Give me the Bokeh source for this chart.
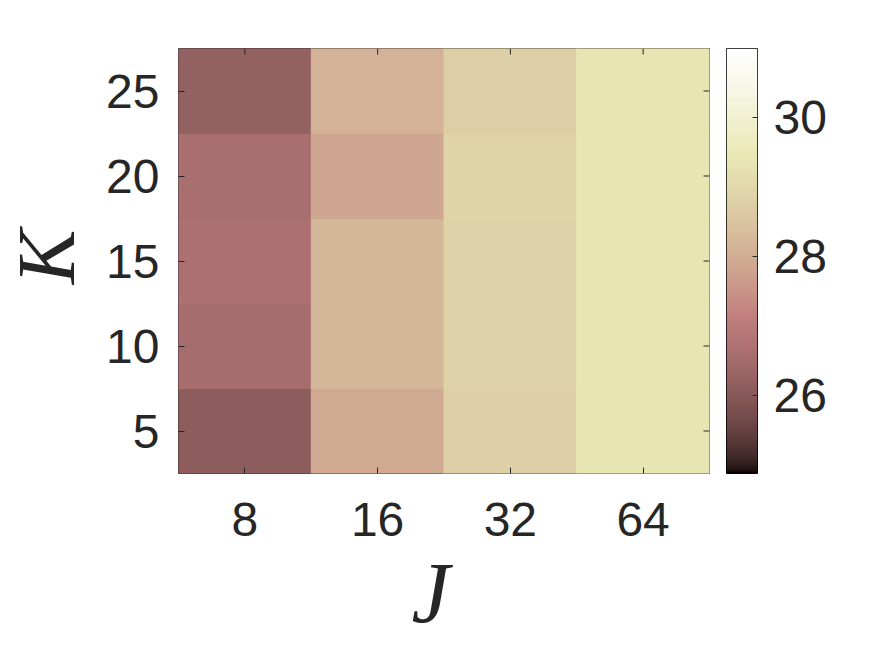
import numpy as np
from bokeh.plotting import figure
from bokeh.layouts import row
from bokeh.models import (LinearColorMapper, FixedTicker, ColumnDataSource, Range1d,
                          Label, Title)
from bokeh.embed import file_html
from bokeh.resources import INLINE

# ---- data ----
J_labels = ["8", "16", "32", "64"]
K_values = [5, 10, 15, 20, 25]
vals_J8 = [26.08, 26.57, 26.65, 26.61, 26.21]
vals_J16 = [27.90, 28.18, 28.18, 27.86, 28.10]
vals_J32 = [28.76, 28.86, 28.86, 28.87, 28.74]
vals_J64 = [29.35, 29.35, 29.35, 29.35, 29.35]
clim = [24.87, 31.0]
cbar_ticks = [26, 28, 30]

# ---- MATLAB "pink" colormap ----
def pink_palette(m=256):
    n = int(np.fix(3 / 8 * m))
    r = np.concatenate([np.arange(1, n + 1) / n, np.ones(m - n)])
    g = np.concatenate([np.zeros(n), np.arange(1, n + 1) / n, np.ones(m - 2 * n)])
    b = np.concatenate([np.zeros(2 * n), np.arange(1, m - 2 * n + 1) / (m - 2 * n)])
    gray = np.linspace(0, 1, m)
    out = []
    for rr, gg, bb, gr in zip(r, g, b, gray):
        c = np.sqrt((2 * gr + np.array([rr, gg, bb])) / 3)
        c = np.clip(np.round(c * 255), 0, 255).astype(int)
        out.append("#%02x%02x%02x" % tuple(c))
    return out

palette = pink_palette(256)

cols = [vals_J8, vals_J16, vals_J32, vals_J64]
xs, ys, vs = [], [], []
for i, col in enumerate(cols):
    for k, v in zip(K_values, col):
        xs.append(i + 1)
        ys.append(k)
        vs.append(v)
src = ColumnDataSource(dict(x=xs, y=ys, v=vs))

mapper = LinearColorMapper(palette=palette, low=clim[0], high=clim[1])

TXT = "#262626"
FW, FH = 531, 425
TOP = 48
BOT = 170
KW = 90          # width of the strip that holds the K title

x_lo, x_hi = 0.5, len(J_labels) + 0.5
y_lo, y_hi = 2.5, 27.5
px_x = (x_hi - x_lo) / FW   # data units per pixel
px_y = (y_hi - y_lo) / FH

title_style = dict(text_font="Liberation Serif", text_font_style="italic",
                   text_color=TXT)

# ---- strip with the y-axis title (frame aligned with the heatmap frame) ----
kf = figure(frame_width=KW, frame_height=FH, output_backend="svg",
            toolbar_location=None, x_range=Range1d(0, KW), y_range=Range1d(0, FH),
            min_border_left=0, min_border_right=0, min_border_top=TOP,
            min_border_bottom=BOT, x_axis_location=None, y_axis_location=None)
kf.grid.visible = False
kf.outline_line_color = None
kf.add_layout(Label(x=46, y=FH / 2 + 4, text="K", angle=np.pi / 2,
                    text_align="center", text_baseline="middle",
                    text_font_size="82px", **title_style))

# ---- heatmap ----
p = figure(frame_width=FW, frame_height=FH, output_backend="svg",
           toolbar_location=None,
           x_range=Range1d(x_lo, x_hi), y_range=Range1d(y_lo, y_hi),
           min_border_left=178 - KW, min_border_top=TOP,
           min_border_bottom=BOT, min_border_right=8)
p.rect(x="x", y="y", width=1, height=5, source=src,
       fill_color={"field": "v", "transform": mapper},
       line_color={"field": "v", "transform": mapper}, line_width=1)

p.grid.visible = False
p.outline_line_color = TXT
p.outline_line_width = 1
p.background_fill_color = "white"

for ax in (p.xaxis[0], p.yaxis[0]):
    ax.major_tick_in = 6
    ax.major_tick_out = 0
    ax.minor_tick_line_color = None
    ax.axis_line_color = None
    ax.major_tick_line_color = TXT
    ax.major_label_text_font = "Liberation Sans"
    ax.major_label_text_font_size = "48px"
    ax.major_label_text_color = TXT

x_ticks = list(range(1, len(J_labels) + 1))
p.xaxis[0].ticker = FixedTicker(ticks=x_ticks)
p.xaxis[0].major_label_overrides = {t: l for t, l in zip(x_ticks, J_labels)}
p.xaxis[0].major_label_standoff = 29

p.yaxis[0].ticker = FixedTicker(ticks=K_values)
p.yaxis[0].major_label_standoff = 19

p.add_layout(Title(text="J", align="left", offset=233, standoff=9,
                   text_font_size="86px", **title_style), "below")

# mirrored inward ticks on top and right edges (6 px long)
p.segment(x0=x_ticks, y0=[y_hi] * len(x_ticks), x1=x_ticks,
          y1=[y_hi - 6 * px_y] * len(x_ticks), line_color=TXT, line_width=1)
p.segment(x0=[x_hi] * len(K_values), y0=K_values, x1=[x_hi - 6 * px_x] * len(K_values),
          y1=K_values, line_color=TXT, line_width=1)

# ---- colorbar as its own small figure ----
grad = np.linspace(clim[0], clim[1], 512).reshape(-1, 1)
cb = figure(frame_width=31, frame_height=FH, output_backend="svg",
            toolbar_location=None,
            x_range=Range1d(0, 1), y_range=Range1d(clim[0], clim[1]),
            min_border_left=9, min_border_top=TOP, min_border_bottom=BOT,
            min_border_right=60, x_axis_location=None, y_axis_location="right")
cb.image(image=[grad], x=0, y=clim[0], dw=1, dh=clim[1] - clim[0],
         color_mapper=mapper)
cb.grid.visible = False
cb.outline_line_color = "black"
cb.outline_line_width = 1
ya = cb.yaxis[0]
ya.ticker = FixedTicker(ticks=cbar_ticks)
ya.major_tick_in = 5
ya.major_tick_out = 0
ya.minor_tick_line_color = None
ya.axis_line_color = None
ya.major_tick_line_color = TXT
ya.major_label_text_font = "Liberation Sans"
ya.major_label_text_font_size = "48px"
ya.major_label_text_color = TXT
ya.major_label_standoff = 16

layout = row(kf, p, cb)
open("out.html", "w").write(file_html(layout, INLINE))
